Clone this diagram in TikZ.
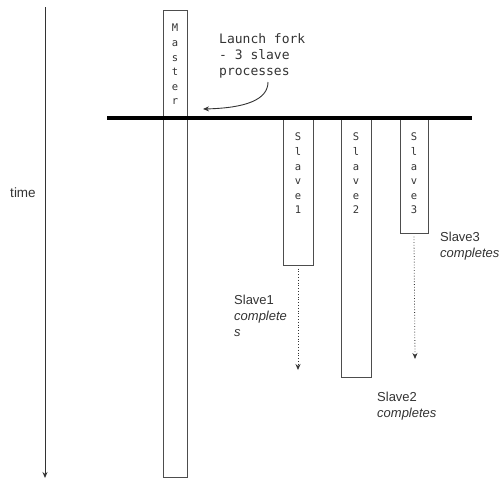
\documentclass[tikz,border=0pt]{standalone}
\usepackage{fontspec}
\setmainfont{Liberation Sans}
\newfontfamily\monofont{DejaVu Sans Mono}
\usetikzlibrary{arrows.meta}
\definecolor{txt}{HTML}{333333}
\definecolor{boxc}{HTML}{4D4D4D}
\tikzset{
  proc/.style={draw=boxc, line width=1pt, rectangle, inner sep=0pt},
  vletters/.style={anchor=north, align=center, inner sep=0pt, text=txt,
    font=\monofont\fontsize{10.5}{14.6}\selectfont},
  lab/.style={anchor=north west, align=left, inner sep=0pt, text=txt,
    font=\fontsize{13}{16}\selectfont},
  dotarrow/.style={dotted, line width=0.8pt, draw=txt, -{Stealth[length=6pt,width=5pt]}},
}
\begin{document}
\begin{tikzpicture}[x=1pt,y=-1pt]
\useasboundingbox (0,0) rectangle (503,483);
% time axis
\coordinate (ttop) at (45,7);
\coordinate (tbot) at (45,478);
\draw[line width=0.9pt, draw=txt, -{Stealth[length=6pt,width=5pt]}] (ttop) -- (tbot);
\node[text=txt, font=\fontsize{13.5}{16}\selectfont] (time) at (23,193) {time};
% process boxes
\node[proc, minimum width=24pt, minimum height=467pt] (master) at (175,243.5) {};
\node[proc, minimum width=30pt, minimum height=147pt] (s1) at (298,191.5) {};
\node[proc, minimum width=30pt, minimum height=259pt] (s2) at (356,247.5) {};
\node[proc, minimum width=28pt, minimum height=115pt] (s3) at (414,175.5) {};
% fork line
\coordinate (fl) at (107,118);
\coordinate (fr) at (472,118);
\draw[line width=4pt] (fl) -- (fr);
% vertical letters
\node[vletters] (mtext) at (175,24) {M\\a\\s\\t\\e\\r};
\node[vletters] (s1text) at (298,133) {S\\l\\a\\v\\e\\1};
\node[vletters] (s2text) at (356,133) {S\\l\\a\\v\\e\\2};
\node[vletters] (s3text) at (414,133) {S\\l\\a\\v\\e\\3};
% launch fork note
\node[anchor=north west, align=left, inner sep=0pt, text=txt,
  font=\monofont\fontsize{13}{16}\selectfont] (launch) at (219,33)
  {Launch fork\\- 3 slave\\processes};
\coordinate (cstart) at (268,82);
\coordinate (cend) at (203,109);
\draw[line width=0.9pt, draw=txt, -{Stealth[length=6pt,width=5pt]}]
  (cstart) .. controls (268,100) and (245,108) .. (cend);
% completion arrows
\coordinate (s1end) at (298,370);
\coordinate (s3end) at (415,359);
\draw[dotarrow] (s1.south) ++(0,3) coordinate (s1a) (s1a) -- (s1end);
\draw[dotarrow] (s3.south) ++(0,3) coordinate (s3a) (s3a) -- (s3end);
% labels
\node[lab] (l3) at (440,232) {Slave3\\\textit{completes}};
\node[lab] (l2) at (377,392) {Slave2\\\textit{completes}};
\node[lab] (l1) at (234,295) {Slave1\\\textit{complete}\\\textit{s}};
\end{tikzpicture}
\end{document}
